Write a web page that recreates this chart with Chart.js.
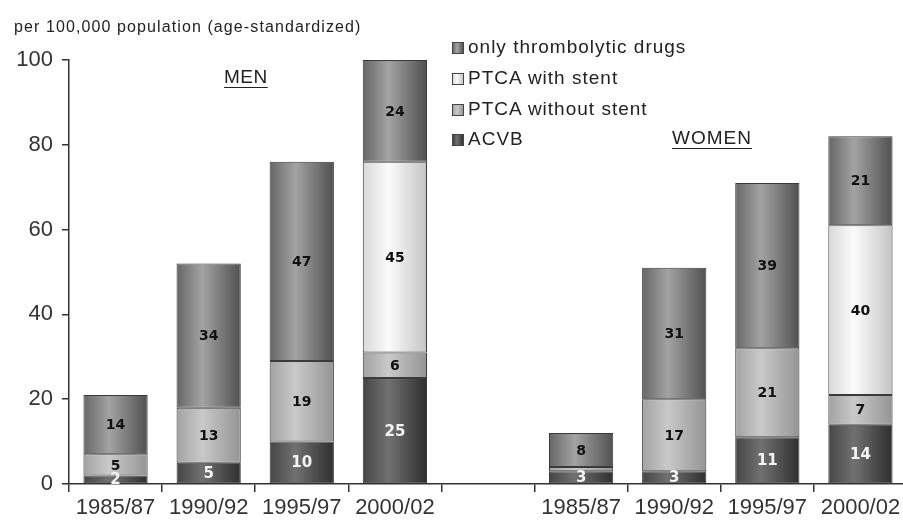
<!DOCTYPE html>
<html>
<head>
<meta charset="utf-8">
<script src="https://cdn.jsdelivr.net/npm/chart.js@4/dist/chart.umd.min.js"></script>
<style>
  body { margin: 0; overflow: hidden; background: #fff; font-family: "Liberation Sans", Arial, sans-serif; color: #222; }
  #wrap { position: relative; width: 910px; height: 526px; }
  .txt { position: absolute; white-space: nowrap; }
  #title { left: 14px; top: 18px; font-size: 16px; letter-spacing: 1.1px; }
  .leg { position: absolute; left: 452px; font-size: 19px; letter-spacing: 1px; line-height: 20px; }
  .leg span.box { display: inline-block; width: 10px; height: 10px; border: 1px solid #444; margin-right: 4px; vertical-align: -1px; }
  .sex { font-size: 19px; text-decoration: underline; text-underline-offset: 4px; }
</style>
</head>
<body>
<div id="wrap">
  <canvas id="chart" width="910" height="526"></canvas>
  <div id="title" class="txt">per 100,000 population (age-standardized)</div>
  <div class="leg" style="top:37px"><span class="box" style="background:linear-gradient(90deg,#6a6a6a,#a5a5a5 40%,#555)"></span>only thrombolytic drugs</div>
  <div class="leg" style="top:68px"><span class="box" style="background:linear-gradient(90deg,#ddd,#fafafa 40%,#c8c8c8)"></span>PTCA with stent</div>
  <div class="leg" style="top:99px"><span class="box" style="background:linear-gradient(90deg,#a5a5a5,#c8c8c8 40%,#999)"></span>PTCA without stent</div>
  <div class="leg" style="top:129px"><span class="box" style="background:linear-gradient(90deg,#444,#707070 40%,#333)"></span>ACVB</div>
  <div class="txt sex" style="left:224px; top:66px; letter-spacing:0.5px">MEN</div>
  <div class="txt sex" style="left:672px; top:127px; letter-spacing:1px">WOMEN</div>
</div>
<script>
// categories: men 4 periods, empty gap, women 4 periods
const categories = ['1985/87', '1990/92', '1995/97', '2000/02', '', '1985/87', '1990/92', '1995/97', '2000/02'];

const acvb         = [2, 5, 10, 25, null, 3, 3, 11, 14];
const ptcaNoStent  = [5, 13, 19, 6, null, 1, 17, 21, 7];
const ptcaStent    = [null, null, null, 45, null, null, null, null, 40];
const thrombolytic = [14, 34, 47, 24, null, 8, 31, 39, 21];

const yTicks = [0, 20, 40, 60, 80, 100];

// gradient stops per series: edge, highlight, far edge
const shades = {
    acvb: ['#454545', '#717171', '#2e2e2e'],
    noStent: ['#a2a2a2', '#c9c9c9', '#949494'],
    stent: ['#d8d8d8', '#fbfbfb', '#c4c4c4'],
    thrombo: ['#666666', '#a3a3a3', '#505050']
};

const BAR_PCT = 0.69;

function barGradient(key) {
    return function(ctx) {
        const chart = ctx.chart;
        const s = shades[key];
        if (!chart.chartArea || !chart.scales.x) return s[1];
        const xs = chart.scales.x;
        const cx = xs.getPixelForValue(ctx.dataIndex);
        const half = xs.width / categories.length * BAR_PCT / 2;
        const g = chart.ctx.createLinearGradient(cx - half, 0, cx + half, 0);
        g.addColorStop(0, s[0]);
        g.addColorStop(0.4, s[1]);
        g.addColorStop(1, s[2]);
        return g;
    };
}

// numbers written inside the segments
const segmentLabels = {
    id: 'segmentLabels',
    afterDatasetsDraw(chart) {
        const c = chart.ctx;
        c.save();
        c.textAlign = 'center';
        c.textBaseline = 'middle';
        chart.data.datasets.forEach((ds, di) => {
            const meta = chart.getDatasetMeta(di);
            meta.data.forEach((bar, i) => {
                const v = ds.data[i];
                if (v == null || v < 2) return;
                const y = (bar.y + bar.base) / 2;
                if (ds.whiteLabel) {
                    c.fillStyle = '#f4f4f4';
                    c.font = 'bold 15px "DejaVu Sans", sans-serif';
                } else {
                    c.fillStyle = '#111';
                    c.font = 'bold 14px "DejaVu Sans", sans-serif';
                }
                c.fillText(String(v), bar.x, y + 1);
            });
        });
        c.restore();
    }
};

const ctx = document.getElementById('chart').getContext('2d');
new Chart(ctx, {
    type: 'bar',
    data: {
        labels: categories,
        datasets: [
            { label: 'ACVB', data: acvb, backgroundColor: barGradient('acvb'), whiteLabel: true },
            { label: 'PTCA without stent', data: ptcaNoStent, backgroundColor: barGradient('noStent') },
            { label: 'PTCA with stent', data: ptcaStent, backgroundColor: barGradient('stent') },
            { label: 'only thrombolytic drugs', data: thrombolytic, backgroundColor: barGradient('thrombo') }
        ]
    },
    options: {
        responsive: false,
        animation: false,
        layout: { padding: { top: 60, right: 3, left: 0, bottom: 0 } },
        datasets: {
            bar: {
                categoryPercentage: 1,
                barPercentage: BAR_PCT,
                borderColor: '#3a3a3a',
                borderWidth: 1,
                borderSkipped: false
            }
        },
        plugins: {
            legend: { display: false },
            tooltip: { enabled: false }
        },
        scales: {
            x: {
                stacked: true,
                grid: { display: true, drawOnChartArea: false, drawTicks: true, tickLength: 8, color: '#333', lineWidth: 1.5 },
                border: { display: true, color: '#333', width: 1.5 },
                ticks: { color: '#333', font: { family: '"Liberation Sans", Arial, sans-serif', size: 22 }, padding: 3, maxRotation: 0, autoSkip: false },
                afterFit(scale) { scale.height = 42; }
            },
            y: {
                stacked: true,
                min: 0,
                max: 100,
                afterBuildTicks(scale) { scale.ticks = yTicks.map(v => ({ value: v })); },
                grid: { display: true, drawOnChartArea: false, drawTicks: true, tickLength: 7, color: '#333', lineWidth: 1.5 },
                border: { display: true, color: '#333', width: 1.5 },
                ticks: { color: '#333', font: { family: '"Liberation Sans", Arial, sans-serif', size: 22 }, padding: 9 },
                afterFit(scale) { scale.width = 69; }
            }
        }
    },
    plugins: [segmentLabels]
});
</script>
</body>
</html>
